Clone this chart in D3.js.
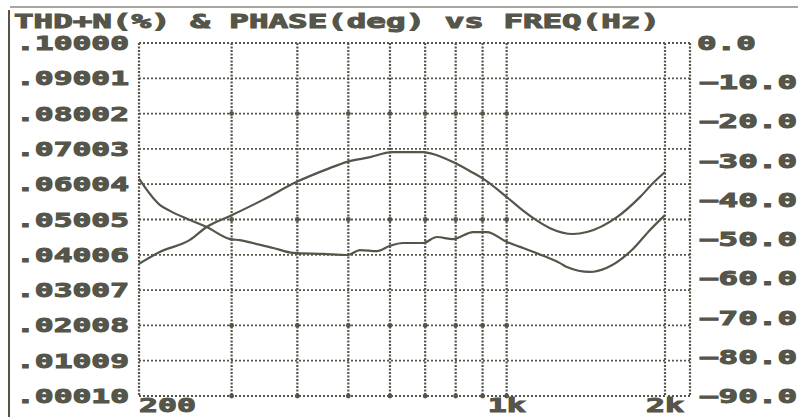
<!DOCTYPE html>
<html>
<head>
<meta charset="utf-8">
<script src="https://cdn.jsdelivr.net/npm/d3@7"></script>
<style>
  html, body { margin: 0; padding: 0; background: #ffffff; }
  svg { display: block; }
  text { font-family: "DejaVu Sans Mono", "Liberation Mono", monospace; font-weight: bold; fill: #55554a; stroke: #55554a; stroke-width: 1px; }
</style>
</head>
<body>
<svg id="chart" width="798" height="417"></svg>
<script>
// Frequency grid (Hz) and the labelled frequencies
const gridFreqs = [200, 300, 400, 500, 600, 700, 800, 900, 1000, 2000];
const freqLabels = ["200", "1k", "2k"];
const freqLabelValues = [200, 1000, 2000];

// Left axis: THD+N (%) tick labels, right axis: phase (deg)
const thdTicks = [".10000", ".09001", ".08002", ".07003", ".06004", ".05005", ".04006", ".03007", ".02008", ".01009", ".00010"];
const phaseTicks = [0, -10, -20, -30, -40, -50, -60, -70, -80, -90];

// THD+N (%) versus frequency
const thdFreq = [200, 219, 229, 250, 269, 298, 311, 329, 360, 393, 448, 499, 526, 567, 600, 635, 693, 737, 791, 863, 917, 1001, 1060, 1122, 1263, 1302, 1440, 1551, 1738, 1873, 2000];
const thdValue = [0.0616, 0.0542, 0.0525, 0.0499, 0.0479, 0.0445, 0.0442, 0.0434, 0.0420, 0.0406, 0.0403, 0.0400, 0.0414, 0.0411, 0.0426, 0.0434, 0.0434, 0.0451, 0.0445, 0.0465, 0.0465, 0.0437, 0.0423, 0.0409, 0.0377, 0.0366, 0.0352, 0.0364, 0.0417, 0.0471, 0.0513];

// Phase (deg) versus frequency
const phaseFreq = [200, 219, 250, 269, 298, 344, 399, 461, 497, 550, 605, 693, 737, 798, 863, 897, 1001, 1060, 1122, 1209, 1337, 1421, 1621, 1792, 1899, 2000];
const phaseValue = [-56.3, -53.3, -50.2, -46.9, -44.1, -40.0, -35.4, -31.9, -30.3, -29.1, -27.8, -27.8, -28.6, -30.6, -33.1, -34.4, -39.3, -42.1, -44.6, -47.2, -48.7, -48.2, -44.4, -39.3, -35.7, -32.9];

const svg = d3.select("#chart");
const ink = "#55554a";

const x = d3.scaleLog().domain([200, 2000]).range([139, 665]);
const yThd = d3.scaleLinear().domain([0.0001, 0.1]).range([396, 43]);
const yPhase = d3.scaleLinear().domain([-90, 0]).range([396, 43]);
const xOuter = 690;

// page frame: top rule and left rule
svg.append("line").attr("x1", 10).attr("x2", 798).attr("y1", 7).attr("y2", 7)
  .attr("stroke", "#8a8a80").attr("stroke-width", 1.5);
svg.append("line").attr("x1", 9).attr("x2", 9).attr("y1", 10).attr("y2", 417)
  .attr("stroke", ink).attr("stroke-width", 2);

// title
svg.append("text").attr("x", 14).attr("y", 28)
  .attr("font-size", 19).attr("textLength", 646).attr("lengthAdjust", "spacingAndGlyphs")
  .text("THD+N(%) & PHASE(deg) vs FREQ(Hz)");

const grid = svg.append("g");

// horizontal dotted grid lines (plot area + connector to the outer frame)
thdTicks.forEach(t => {
  const yy = yThd(+t);
  grid.append("line").attr("x1", x(200)).attr("x2", x(2000)).attr("y1", yy).attr("y2", yy)
    .attr("stroke", ink).attr("stroke-width", 1.8).attr("stroke-dasharray", "2,2");
  grid.append("line").attr("x1", x(2000) + 3).attr("x2", xOuter).attr("y1", yy).attr("y2", yy)
    .attr("stroke", ink).attr("stroke-width", 1.8).attr("stroke-dasharray", "2,2");
});

// vertical dotted grid lines
gridFreqs.forEach(f => {
  grid.append("line").attr("x1", x(f)).attr("x2", x(f)).attr("y1", yThd(0.1)).attr("y2", yThd(0.0001))
    .attr("stroke", ink).attr("stroke-width", 2.2).attr("stroke-dasharray", "2,1.5");
});
grid.append("line").attr("x1", xOuter).attr("x2", xOuter).attr("y1", yThd(0.1)).attr("y2", yThd(0.0001))
  .attr("stroke", ink).attr("stroke-width", 2.2).attr("stroke-dasharray", "2,1.5");

// intersection markers on every third row
[2, 5, 8, 10].forEach(i => {
  const yy = yThd(+thdTicks[i]);
  gridFreqs.slice(1, -1).forEach(f => {
    grid.append("circle").attr("cx", x(f)).attr("cy", yy).attr("r", 2.4).attr("fill", ink);
  });
});

// left tick labels
svg.append("g").selectAll("text").data(thdTicks).join("text")
  .attr("x", 16).attr("y", d => yThd(+d) + 7)
  .attr("font-size", 19).attr("textLength", 113).attr("lengthAdjust", "spacingAndGlyphs")
  .text(d => d);

// right tick labels
svg.append("g").selectAll("text").data(phaseTicks).join("text")
  .attr("x", d => d === 0 ? 697 : 699).attr("y", d => yPhase(d) + 7)
  .attr("font-size", 19)
  .attr("textLength", d => d3.format(".1f")(d).length * 19.6)
  .attr("lengthAdjust", "spacingAndGlyphs")
  .text(d => d3.format(".1f")(d).replace("-", "\u2212"));

// bottom frequency labels
svg.append("g").selectAll("text").data(freqLabels).join("text")
  .attr("x", (d, i) => i === 0 ? x(freqLabelValues[i]) : x(freqLabelValues[i]) - d.length * 9.5)
  .attr("y", 412)
  .attr("font-size", 19)
  .attr("textLength", d => d.length * 19)
  .attr("lengthAdjust", "spacingAndGlyphs")
  .text(d => d);

// curves
const thdLine = d3.line().x((d, i) => x(thdFreq[i])).y(d => yThd(d)).curve(d3.curveMonotoneX);
const phaseLine = d3.line().x((d, i) => x(phaseFreq[i])).y(d => yPhase(d)).curve(d3.curveMonotoneX);

svg.append("path").attr("d", phaseLine(phaseValue))
  .attr("fill", "none").attr("stroke", ink).attr("stroke-width", 2.2);
svg.append("path").attr("d", thdLine(thdValue))
  .attr("fill", "none").attr("stroke", ink).attr("stroke-width", 2.2);
</script>
</body>
</html>
